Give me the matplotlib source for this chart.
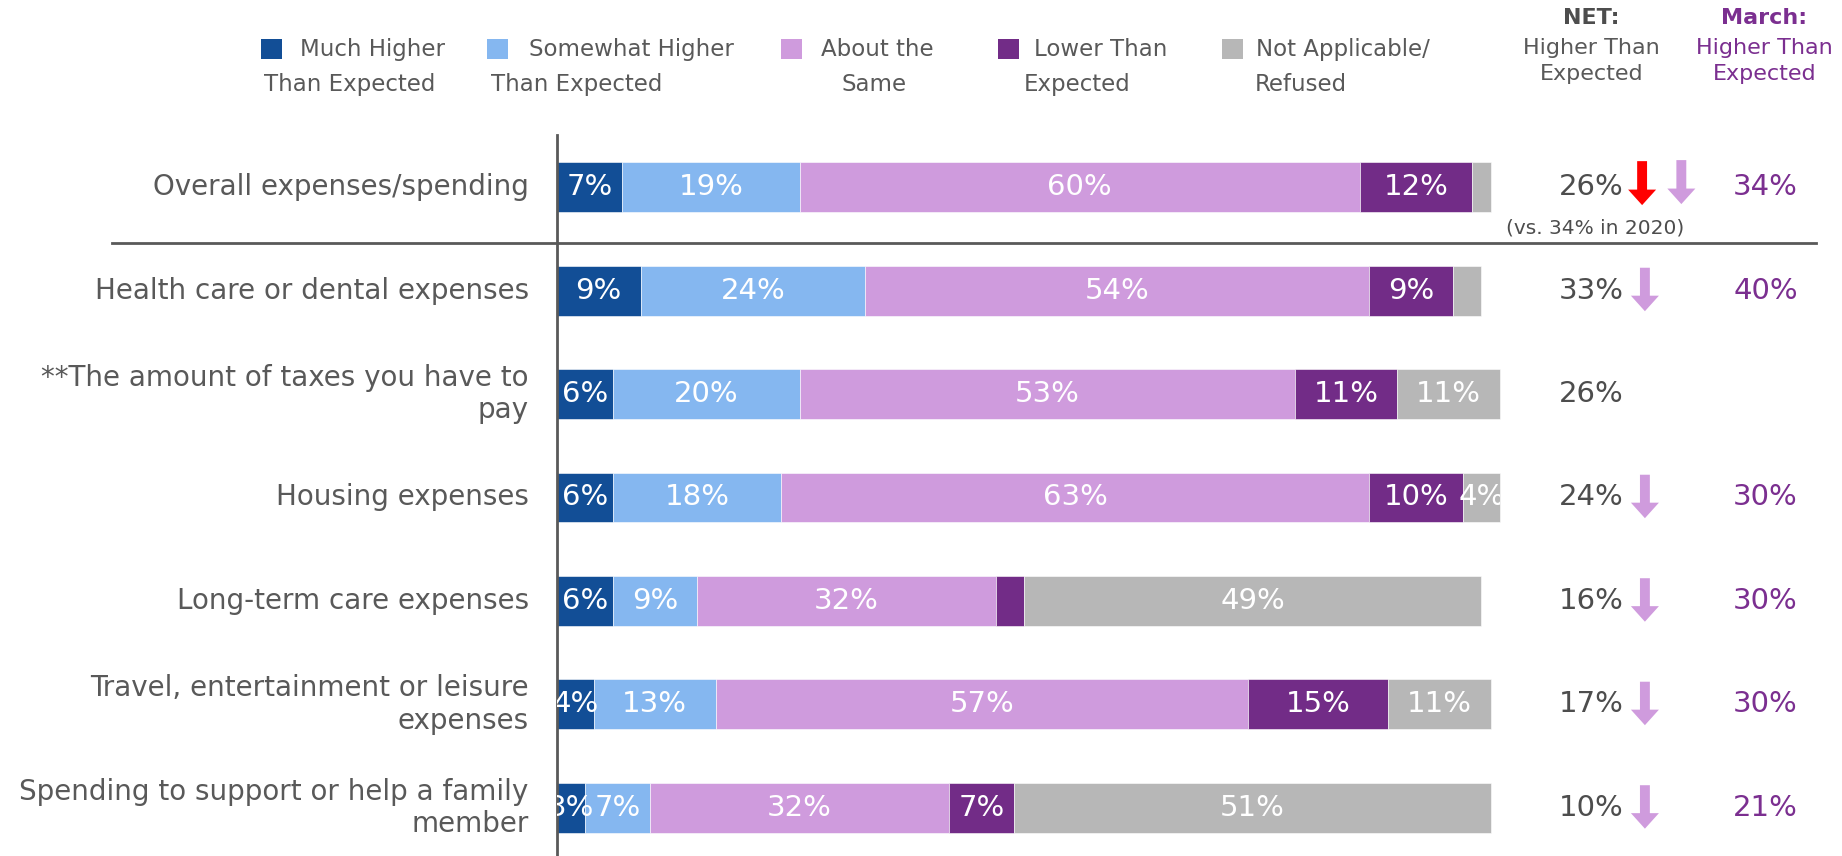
import numpy as np
import matplotlib.pyplot as plt
from matplotlib.patches import Rectangle, Polygon

categories = [
    "Overall expenses/spending",
    "Health care or dental expenses",
    "**The amount of taxes you have to\npay",
    "Housing expenses",
    "Long-term care expenses",
    "Travel, entertainment or leisure\nexpenses",
    "Spending to support or help a family\nmember",
]
much_higher = [7, 9, 6, 6, 6, 4, 3]
somewhat_higher = [19, 24, 20, 18, 9, 13, 7]
about_same = [60, 54, 53, 63, 32, 57, 32]
lower = [12, 9, 11, 10, 3, 15, 7]
not_applicable = [2, 3, 11, 4, 49, 11, 51]

net_higher = [26, 33, 26, 24, 16, 17, 10]
march_higher = [34, 40, None, 30, 30, 30, 21]

legend_lines = [
    ("Much Higher", "Than Expected"),
    ("Somewhat Higher", "Than Expected"),
    ("About the", "Same"),
    ("Lower Than", "Expected"),
    ("Not Applicable/", "Refused"),
]

# (row, segment) pairs too thin to carry a label
unlabeled = {(0, 4), (1, 4), (4, 3)}

colors = ["#124E96", "#85B7F0", "#CF9BDD", "#722C87", "#B7B7B7"]
TEXT = "#595959"
DARK = "#4D4D4D"
PURPLE = "#7B2F90"
PINK = "#CF9BDD"
RED = "#FF0000"

plt.rcParams['font.family'] = ['DejaVu Sans']

fig = plt.figure(figsize=(18.42, 8.56), dpi=100)
ax = fig.add_axes([0, 0, 1, 1])
# x in percent, y in row index (0 at the top)
ax.set_xlim(-59.6, 137.6)
ax.set_ylim(6.464, -1.807)
ax.axis('off')

segments = [much_higher, somewhat_higher, about_same, lower, not_applicable]
rows = np.arange(len(categories))
totals = np.sum(np.array(segments, float), axis=0)
bar_h = 0.483

left = np.zeros(len(categories))
for k, (vals, col) in enumerate(zip(segments, colors)):
    vals = np.array(vals, float)
    ax.barh(rows, vals, left=left, height=bar_h, color=col,
            edgecolor='white', linewidth=0.4)
    for i, v in enumerate(vals):
        if (i, k) in unlabeled:
            continue
        t = ax.text(left[i] + v / 2, i, f"{v:.0f}%", ha='center', va='center',
                    color='white', fontsize=21, clip_on=True)
        clip = Rectangle((0, i - bar_h / 2), totals[i], bar_h, transform=ax.transData)
        t.set_clip_path(clip)
    left += vals

# category labels
for i, cat in enumerate(categories):
    ax.text(-3.0, i, cat, ha='right', va='center', fontsize=20,
            color=TEXT, linespacing=1.2)

# axis and separator lines
ax.plot([0, 0], [-0.502, 6.5], color=TEXT, lw=2, clip_on=False)
ax.plot([-47.6, 134.8], [0.541, 0.541], color=TEXT, lw=2, clip_on=False)


def down_arrow(xc, ytop, ytip, color):
    sw, hw, hl = 0.53, 1.5, 0.15
    pts = [(xc - sw, ytop), (xc + sw, ytop), (xc + sw, ytip - hl),
           (xc + hw, ytip - hl), (xc, ytip), (xc - hw, ytip - hl),
           (xc - sw, ytip - hl)]
    ax.add_patch(Polygon(pts, closed=True, color=color, lw=0))


# NET and March columns
for i, (net, mar) in enumerate(zip(net_higher, march_higher)):
    ax.text(110.8, i, f"{net}%", ha='center', va='center', fontsize=21, color=DARK)
    if mar is not None:
        ax.text(129.4, i, f"{mar}%", ha='center', va='center', fontsize=21, color=PURPLE)
    if i == 0:
        down_arrow(116.2, i - 0.25, i + 0.175, RED)
        down_arrow(120.4, i - 0.26, i + 0.165, PINK)
    elif mar is not None:
        down_arrow(116.5, i - 0.22, i + 0.2, PINK)

ax.text(111.2, 0.396, "(vs. 34% in 2020)", ha='center', va='center',
        fontsize=14.5, color=DARK)

# column headers
ax.text(110.8, -1.633, "NET:", ha='center', va='center', fontsize=16,
        fontweight='bold', color=DARK)
ax.text(110.8, -1.217, "Higher Than\nExpected", ha='center', va='center',
        fontsize=16, color=TEXT, linespacing=1.4)
ax.text(129.3, -1.633, "March:", ha='center', va='center', fontsize=16,
        fontweight='bold', color=PURPLE)
ax.text(129.3, -1.217, "Higher Than\nExpected", ha='center', va='center',
        fontsize=16, color=PURPLE, linespacing=1.4)

# legend
sq_x = [-31.7, -7.5, 24.0, 47.2, 71.2]
first_x = [-27.5, -3.0, 28.3, 51.1, 74.9]
second_x = [-31.3, -7.07, 30.5, 50.0, 74.7]
for col, (l1, l2), sx, x1, x2 in zip(colors, legend_lines, sq_x, first_x, second_x):
    ax.add_patch(Rectangle((sx, -1.43), 2.25, 0.193, color=col, lw=0, clip_on=False))
    ax.text(x1, -1.324, l1, ha='left', va='center', fontsize=16.5, color=TEXT)
    ax.text(x2, -0.995, l2, ha='left', va='center', fontsize=16.5, color=TEXT)

fig.savefig("out.png", dpi=100)
